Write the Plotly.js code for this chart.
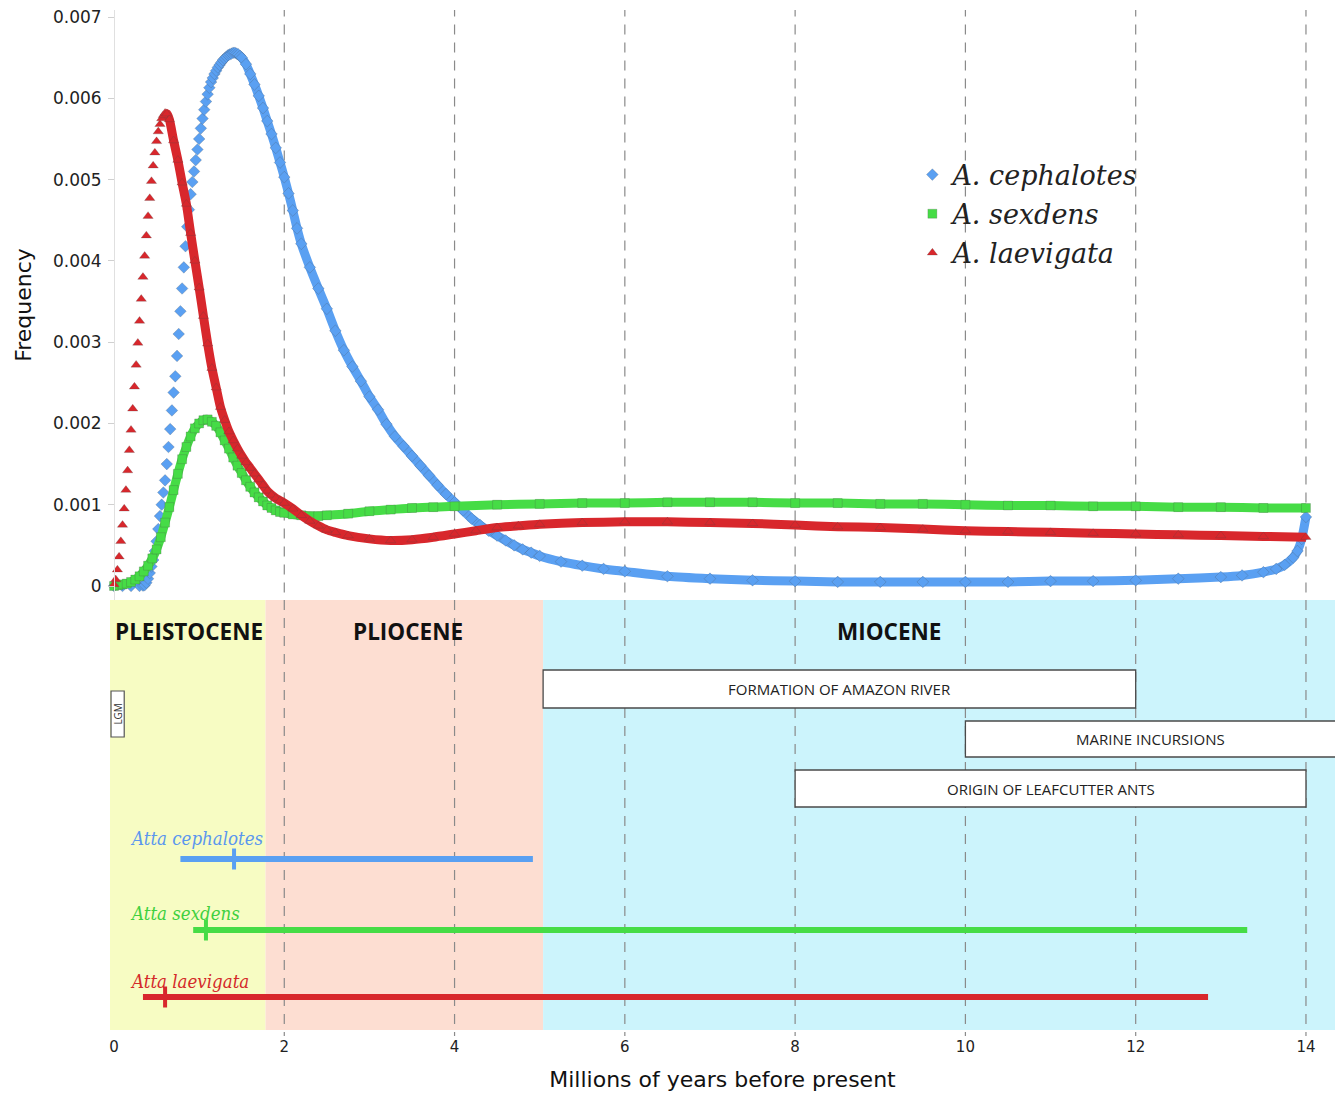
<!DOCTYPE html>
<html>
<head>
<meta charset="utf-8">
<script src="https://cdn.plot.ly/plotly-3.0.1.min.js"></script>
<style>html,body{margin:0;padding:0;background:#fff;}</style>
</head>
<body>
<div id="chart" style="width:1335px;height:1094px;"></div>
<script>
// ---------- Data ----------
const ageCeph = [0,0.1,0.2,0.3,0.34,
0.36,0.38,0.40,0.42,0.44,0.46,0.48,0.50,0.52,0.54,0.56,0.58,0.60,0.62,0.64,0.66,0.68,0.70,0.72,0.74,0.76,0.78,0.80,0.82,0.84,0.86,0.88,0.90,0.92,0.94,0.96,0.98,1.00,1.02,1.04,1.06,1.08,1.10,1.12,1.14,1.16,1.18,1.20,1.22,1.24,1.26,1.28,1.30,1.32,1.34,1.36,1.38,1.40,1.42,1.44,1.46,1.48,1.50,
1.55,1.60,1.65,1.70,1.75,1.80,1.85,1.90,1.95,2.00,2.05,2.10,2.15,
2.2,2.3,2.4,2.5,2.6,2.7,2.8,2.9,3.0,3.1,3.2,3.3,3.4,3.5,3.6,3.7,3.8,3.9,4.0,4.1,4.2,4.3,4.4,4.5,4.6,4.7,4.8,4.9,5.0,
5.25,5.5,5.75,6.0,6.5,7.0,7.5,8.0,8.5,9.0,9.5,10.0,10.5,11.0,11.5,12.0,12.5,13.0,13.25,13.5,13.65,13.75,13.85,13.9,13.95,14.0];
const freqCeph = [0,0,0,0,0.000005,
0.00001,0.00004,0.00009,0.00016,0.00024,0.00032,0.00043,0.00055,0.00070,0.00086,0.00100,0.00115,0.00130,0.00150,0.00171,0.00193,0.00216,0.00238,0.00258,0.00283,0.00310,0.00338,0.00366,0.00392,0.00418,0.00442,0.00463,0.00482,0.00497,0.00510,0.00524,0.00537,0.00550,0.00563,0.00575,0.00586,0.00596,0.00605,0.00613,0.00620,0.00625,0.00630,0.00634,0.00638,0.00641,0.00644,0.00647,0.00649,0.00651,0.00653,0.00654,0.00655,0.00656,0.00656,0.00655,0.00654,0.00652,0.00650,
0.00642,0.00630,0.00617,0.00603,0.00588,0.00572,0.00556,0.00539,0.00521,0.00503,0.00483,0.00462,0.00440,
0.00421,0.00392,0.00366,0.00341,0.00314,0.00290,0.00270,0.00252,0.00233,0.00217,0.00199,0.00184,0.00172,0.00160,0.00148,0.00136,0.00124,0.00113,0.00103,0.00093,0.00083,0.00075,0.00068,0.00062,0.00056,0.00050,0.00045,0.00041,0.00037,
0.00030,0.00025,0.00021,0.00018,0.00012,0.00009,0.00007,0.00006,0.00005,0.00005,0.00005,0.00005,0.00005,0.00006,0.00006,0.00007,0.00009,0.00011,0.00013,0.00017,0.00021,0.00026,0.00035,0.00043,0.00058,0.00085];

const ageSex = [0,0.05,0.10,0.15,0.20,0.25,0.30,0.35,0.40,0.45,0.50,0.55,0.60,0.65,0.70,0.75,0.80,0.85,0.90,0.95,1.00,1.05,1.10,1.15,1.20,1.25,1.30,1.35,1.40,1.45,1.50,1.55,1.60,1.65,1.70,1.75,1.80,1.85,1.90,1.95,2.00,
2.1,2.2,2.3,2.4,2.5,
2.75,3.0,3.25,3.5,3.75,4.0,
4.5,5,5.5,6,6.5,7,7.5,8,8.5,9,9.5,10,10.5,11,11.5,12,12.5,13,13.5,14];
const freqSex = [0.00000,0.00001,0.00002,0.00003,0.00005,0.00008,0.00012,0.00018,0.00025,0.00034,0.00045,0.00060,0.00078,0.00097,0.00118,0.00138,0.00156,0.00171,0.00184,0.00194,0.00200,0.00204,0.00205,0.00202,0.00197,0.00189,0.00179,0.00169,0.00158,0.00148,0.00139,0.00130,0.00122,0.00115,0.00109,0.00104,0.00099,0.00096,0.00093,0.00091,0.00090,
0.00088,0.00087,0.00086,0.00086,0.00087,
0.00089,0.00092,0.00094,0.00096,0.00097,0.00098,
0.00100,0.00101,0.00102,0.00102,0.00103,0.00103,0.00103,0.00102,0.00102,0.00101,0.00101,0.00100,0.00099,0.00099,0.00098,0.00098,0.00097,0.00097,0.00096,0.00096];

const ageLaev = [0,0.02,0.04,0.06,0.08,0.10,0.12,0.14,0.16,0.18,0.20,0.22,0.24,0.26,0.28,0.30,0.32,0.34,0.36,0.38,0.40,0.42,0.44,0.46,0.48,0.50,0.52,0.54,0.56,0.58,0.60,0.62,
0.65,0.70,0.75,0.80,0.85,0.90,0.95,1.00,1.05,1.10,1.15,1.20,1.25,1.30,1.35,1.40,1.45,1.50,1.55,1.60,1.65,1.70,1.75,1.80,1.85,1.90,1.95,2.00,
2.1,2.2,2.3,2.4,2.5,2.6,
2.75,3.0,3.25,3.5,3.75,4.0,4.25,4.5,4.75,5.0,
5.5,6,6.5,7,7.5,8,8.5,9,9.5,10,10.5,11,11.5,12,12.5,13,13.5,14];
const freqLaev = [0.00002,0.00008,0.00020,0.00036,0.00055,0.00075,0.00095,0.00118,0.00142,0.00167,0.00192,0.00218,0.00245,0.00272,0.00299,0.00326,0.00353,0.00380,0.00406,0.00431,0.00455,0.00477,0.00498,0.00517,0.00533,0.00547,0.00559,0.00568,0.00575,0.00579,0.00582,0.00581,
0.00574,0.00548,0.00524,0.00496,0.00470,0.00434,0.00400,0.00367,0.00332,0.00298,0.00268,0.00244,0.00220,0.00204,0.00190,0.00179,0.00169,0.00160,0.00152,0.00145,0.00138,0.00131,0.00124,0.00117,0.00112,0.00108,0.00105,0.00102,
0.00095,0.00087,0.00080,0.00074,0.00069,0.00066,
0.00062,0.00058,0.00056,0.00057,0.00060,0.00064,0.00068,0.00072,0.00074,0.00076,
0.00078,0.00079,0.00079,0.00078,0.00077,0.00075,0.00073,0.00072,0.00070,0.00068,0.00067,0.00066,0.00065,0.00064,0.00063,0.00062,0.00061,0.00060];

const speciesNames = ['A. cephalotes','A. sexdens','A. laevigata'];
const yTickVals = [0,0.001,0.002,0.003,0.004,0.005,0.006,0.007];
const yTickText = ['0','0.001','0.002','0.003','0.004','0.005','0.006','0.007'];
const xTickVals = [0,2,4,6,8,10,12,14];

const epochNames = ['PLEISTOCENE','PLIOCENE','MIOCENE'];
const epochStart = [0,1.78,5.04];
const epochEnd = [1.78,5.04,14.4];

const eventNames = ['FORMATION OF AMAZON RIVER','MARINE INCURSIONS','ORIGIN OF LEAFCUTTER ANTS'];
const eventStart = [5.04,10.0,8.0];
const eventEnd = [12.0,14.4,14.0];
const lgmStart = -0.035, lgmEnd = 0.12;

const attaNames = ['Atta cephalotes','Atta sexdens','Atta laevigata'];
const attaMin = [0.78,0.93,0.34];
const attaMax = [4.92,13.31,12.85];
const attaMedian = [1.41,1.08,0.60];

// ---------- Styles / layout ----------
const colors = ['#5aa0f2','#46dc46','#d8272c'];
const labelColors = ['#5b97ee','#3fd03f','#d42a2a'];
const symbols = ['diamond','square','triangle-up'];
const lineStart = [1.40,0,0.60];
const epochColors = ['#f7fcc3','#fdded2','#ccf4fc'];
const epochLabelX = [0.88,3.45,9.1];
const eventRows = [[70,108],[121,157],[170,207]];
const lgmRow = [91,137];
const attaRows = [259,330,397];
const attaLabelRows = [238,313,381];
const xRange = [-0.047,14.341];

const series = [[ageCeph,freqCeph],[ageSex,freqSex],[ageLaev,freqLaev]];
const traces = [];
series.forEach((s,i)=>{
  const lx=[], ly=[];
  s[0].forEach((x,k)=>{ if(x>=lineStart[i]){ lx.push(x); ly.push(s[1][k]); } });
  traces.push({x:lx,y:ly,type:'scatter',mode:'lines',xaxis:'x',yaxis:'y',
    line:{color:colors[i],width:9,shape:'spline',smoothing:0.6},showlegend:false,legendgroup:'g'+i,hoverinfo:'skip',cliponaxis:false});
  traces.push({x:s[0],y:s[1],type:'scatter',mode:'markers',xaxis:'x',yaxis:'y',
    name:'<i>'+speciesNames[i]+'</i>',legendgroup:'g'+i,cliponaxis:false,
    marker:{symbol:symbols[i],size:9,color:colors[i],line:{color:'rgba(70,70,70,0.45)',width:0.5}}});
});
attaNames.forEach((n,i)=>{
  traces.push({x:[attaMin[i],attaMax[i]],y:[attaRows[i],attaRows[i]],type:'scatter',mode:'lines',
    xaxis:'x',yaxis:'y2',line:{color:colors[i],width:6},showlegend:false});
  traces.push({x:[attaMedian[i]],y:[attaRows[i]],type:'scatter',mode:'markers',
    xaxis:'x',yaxis:'y2',marker:{symbol:'line-ns',size:15,line:{color:colors[i],width:4}},showlegend:false});
});

const shapes = [];
epochNames.forEach((n,i)=>{
  shapes.push({type:'rect',xref:'x',yref:'y2',x0:i===0?xRange[0]:epochStart[i],x1:epochEnd[i],y0:0,y1:430,
    fillcolor:epochColors[i],line:{width:0},layer:'below'});
});
xTickVals.filter(v=>v>0).forEach(v=>{
  shapes.push({type:'line',xref:'x',yref:'y',x0:v,x1:v,y0:-0.0003,y1:0.0072,
    line:{color:'#8a8a8a',width:1.2,dash:'10px,8px'},layer:'below'});
  shapes.push({type:'line',xref:'x',yref:'y2',x0:v,x1:v,y0:0,y1:440,
    line:{color:'#8a8a8a',width:1.2,dash:'10px,8px'},layer:'below'});
});
eventNames.forEach((n,i)=>{
  shapes.push({type:'rect',xref:'x',yref:'y2',x0:eventStart[i],x1:eventEnd[i],y0:eventRows[i][0],y1:eventRows[i][1],
    fillcolor:'#ffffff',line:{color:'#4a4a4a',width:1.3},layer:'below'});
});
shapes.push({type:'rect',xref:'x',yref:'y2',x0:lgmStart,x1:lgmEnd,y0:lgmRow[0],y1:lgmRow[1],
  fillcolor:'#ffffff',line:{color:'#555',width:1.2},layer:'below'});

const annotations = [];
epochNames.forEach((n,i)=>{
  annotations.push({xref:'x',yref:'y2',x:epochLabelX[i],y:31,text:'<b>'+n+'</b>',showarrow:false,
    font:{family:'Open Sans, DejaVu Sans',size:22.5,color:'#111'}});
});
eventNames.forEach((n,i)=>{
  annotations.push({xref:'x',yref:'y2',x:(eventStart[i]+Math.min(eventEnd[i],xRange[1]))/2,y:(eventRows[i][0]+eventRows[i][1])/2,
    text:n,showarrow:false,font:{family:'Liberation Sans Narrow, Open Sans',size:15,color:'#222'}});
});
annotations.push({xref:'x',yref:'y2',x:(lgmStart+lgmEnd)/2,y:(lgmRow[0]+lgmRow[1])/2,text:'LGM',textangle:-90,
  showarrow:false,font:{family:'Liberation Sans Narrow, Open Sans',size:10,color:'#333'}});
attaNames.forEach((n,i)=>{
  annotations.push({xref:'x',yref:'y2',x:0.165,y:attaLabelRows[i],xanchor:'left',text:'<i>'+n+'</i>',showarrow:false,
    font:{family:'DejaVu Serif Condensed, DejaVu Serif',size:18.5,color:labelColors[i]}});
});

const layout = {
  width:1335,height:1094,
  margin:{l:110,r:0,t:10,b:58},
  paper_bgcolor:'#ffffff',plot_bgcolor:'rgba(0,0,0,0)',
  showlegend:true,
  legend:{x:0.655,y:0.863,xanchor:'left',yanchor:'top',bgcolor:'rgba(0,0,0,0)',
    font:{family:'DejaVu Serif',size:27,color:'#222'},tracegroupgap:1,itemsizing:'trace'},
  xaxis:{range:xRange,anchor:'y2',tickvals:xTickVals,ticks:'',showgrid:false,zeroline:false,showline:false,
    tickfont:{family:'DejaVu Sans',size:15,color:'#222'},
    title:{text:'Millions of years before present',font:{family:'DejaVu Sans',size:22,color:'#111'},standoff:16}},
  yaxis:{domain:[0.42495,1],range:[-0.00017223,0.00708612],anchor:'free',position:0.00327,
    tickvals:yTickVals,ticktext:yTickText,ticks:'outside',ticklen:6,tickcolor:'#d0d0d0',ticklabelstandoff:3,
    showline:true,linecolor:'#e0e0e0',showgrid:false,zeroline:false,
    tickfont:{family:'DejaVu Sans',size:17,color:'#222'},
    title:{text:'Frequency',font:{family:'DejaVu Sans',size:22,color:'#111'},standoff:14}},
  yaxis2:{domain:[0,0.42495],range:[436,0],anchor:'x',showticklabels:false,showgrid:false,zeroline:false,showline:false,ticks:''},
  shapes:shapes,annotations:annotations
};
Plotly.newPlot('chart',traces,layout,{displayModeBar:false,staticPlot:true});
</script>
</body>
</html>
